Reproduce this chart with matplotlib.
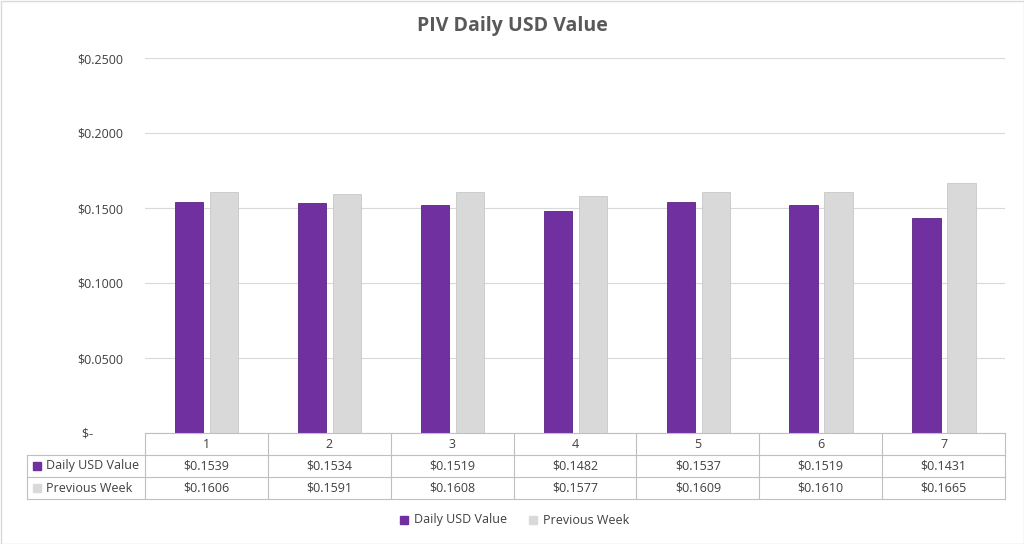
import matplotlib
matplotlib.use("Agg")
import matplotlib.pyplot as plt
from matplotlib.patches import Rectangle
import numpy as np

categories = ["1", "2", "3", "4", "5", "6", "7"]
daily = [0.1539, 0.1534, 0.1519, 0.1482, 0.1537, 0.1519, 0.1431]
prev = [0.1606, 0.1591, 0.1608, 0.1577, 0.1609, 0.1610, 0.1665]
series_names = ["Daily USD Value", "Previous Week"]
yticks = [0, 0.05, 0.10, 0.15, 0.20, 0.25]

purple = "#7030a0"
gray = "#d9d9d9"
txt = "#404040"
W, H = 1024, 544
plt.rcParams['font.family'] = ['Open Sans', 'DejaVu Sans']

fig = plt.figure(figsize=(W/100, H/100), dpi=100)
fig.patch.set_facecolor("white")
fig.add_artist(Rectangle((0.5/W, 0.5/H), 1-1/W, 1-1/H, transform=fig.transFigure,
                         fill=False, edgecolor="#d9d9d9", lw=1))

L, R, B, T = 145, 1005, 433, 58
ax = fig.add_axes([L/W, 1-B/H, (R-L)/W, (B-T)/H])
x = np.arange(len(categories))
ax.bar(x-0.14, daily, 0.23, color=purple, edgecolor="#5b2283", lw=0.6, zorder=3)
ax.bar(x+0.145, prev, 0.23, color=gray, edgecolor="#c8c8c8", lw=0.6, zorder=3)
ax.set_xlim(-0.5, len(categories)-0.5)
ax.set_ylim(0, 0.25)
ax.set_yticks(yticks)
ax.set_yticklabels(["$-" + " "*9 if v == 0 else f"${v:.4f}" for v in yticks],
                   fontsize=9, color=txt)
ax.tick_params(length=0, pad=16)
ax.set_xticks([])
ax.grid(axis="y", color="#d9d9d9", lw=0.8, zorder=0)
for s in ax.spines.values():
    s.set_visible(False)
fig.text(0.5, 1-26/H, "PIV Daily USD Value", ha="center", va="center",
         fontsize=14, fontweight="bold", color="#595959")

# data table
lc = "#bfbfbf"
def fx(px): return px/W
def fy(py): return 1-py/H
rows = [433, 455, 477, 499]
cw = (R-L)/len(categories)
# horizontal lines
fig.add_artist(plt.Line2D([fx(L), fx(R)], [fy(433)]*2, color=lc, lw=0.8))
for yy in rows[1:]:
    fig.add_artist(plt.Line2D([fx(27), fx(R)], [fy(yy)]*2, color=lc, lw=0.8))
for i in range(len(categories)+1):
    xx = L + i*cw
    fig.add_artist(plt.Line2D([fx(xx)]*2, [fy(433), fy(499)], color=lc, lw=0.8))
fig.add_artist(plt.Line2D([fx(27)]*2, [fy(455), fy(499)], color=lc, lw=0.8))
for i, c in enumerate(categories):
    cx = L + (i+0.5)*cw
    fig.text(fx(cx), fy(444), c, ha="center", va="center", fontsize=9, color=txt)
    fig.text(fx(cx), fy(466), f"${daily[i]:.4f}", ha="center", va="center", fontsize=9, color=txt)
    fig.text(fx(cx), fy(488), f"${prev[i]:.4f}", ha="center", va="center", fontsize=9, color=txt)
for yy, name, col in [(466, series_names[0], purple), (488, series_names[1], gray)]:
    fig.add_artist(Rectangle((fx(33), fy(yy+4)), 8/W, 8/H, transform=fig.transFigure,
                             color=col))
    fig.text(fx(46), fy(yy), name, ha="left", va="center", fontsize=9, color=txt)

# legend
for lx, name, col in [(400, series_names[0], purple), (529, series_names[1], gray)]:
    fig.add_artist(Rectangle((fx(lx), fy(524)), 8/W, 8/H, transform=fig.transFigure, color=col))
    fig.text(fx(lx+14), fy(520), name, ha="left", va="center", fontsize=9, color=txt)

fig.savefig("out.png", dpi=100, facecolor="white")
